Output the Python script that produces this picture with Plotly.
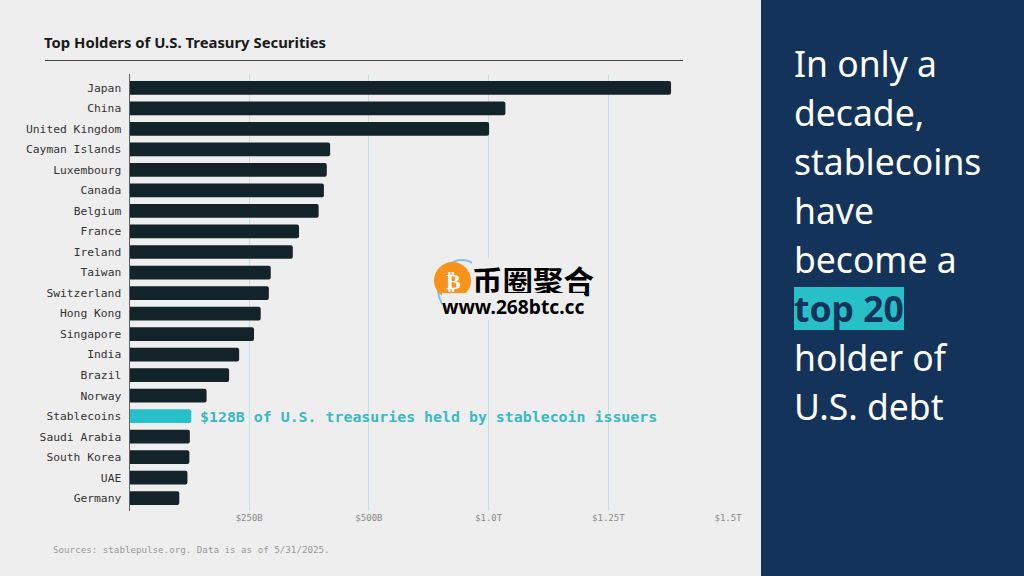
import plotly.graph_objects as go

countries = ["Japan", "China", "United Kingdom", "Cayman Islands", "Luxembourg", "Canada", "Belgium",
             "France", "Ireland", "Taiwan", "Switzerland", "Hong Kong", "Singapore", "India", "Brazil",
             "Norway", "Stablecoins", "Saudi Arabia", "South Korea", "UAE", "Germany"]
holdings = [1131, 785, 751, 419, 412, 406, 395, 354, 341, 295, 291, 274, 260, 229, 208, 161, 129, 126, 125, 121, 104]
tick_values = [250, 500, 750, 1000, 1250]
tick_labels = ["$250B", "$500B", "$1.0T", "$1.25T", "$1.5T"]
panel_lines = ["In only a", "decade,", "stablecoins", "have", "become a", "top 20", "holder of", "U.S. debt"]

W, H = 1024, 576
DARK = "#12232a"
TEAL = "#28c0c8"
NAVY = "#14335a"
SANS = "Noto Sans"
MONO = "DejaVu Sans Mono"


def px(x):
    return x / W


def py(y):
    return 1 - y / H


fig = go.Figure(go.Bar(
    x=holdings, y=countries, orientation="h", width=0.67,
    marker=dict(color=[TEAL if c == "Stablecoins" else DARK for c in countries], cornerradius=2, line_width=0),
    hoverinfo="skip",
))

shapes = [
    dict(type="rect", xref="paper", yref="paper", x0=px(761), x1=1, y0=0, y1=1, fillcolor=NAVY, line_width=0, layer="below"),
    dict(type="rect", xref="paper", yref="paper", x0=px(794), x1=px(904), y0=py(330), y1=py(287), fillcolor=TEAL, line_width=0, layer="below"),
    dict(type="rect", xref="paper", yref="paper", x0=px(45), x1=px(683), y0=py(61), y1=py(60), fillcolor="#4a4a4a", line_width=0),
    # watermark badge
    dict(type="circle", xref="paper", yref="paper", x0=px(438), x1=px(486), y0=py(316), y1=py(260),
         line=dict(color="#7fc4e8", width=2), fillcolor="rgba(0,0,0,0)", layer="above"),
    dict(type="circle", xref="paper", yref="paper", x0=px(434), x1=px(471), y0=py(299), y1=py(262),
         fillcolor="#f7931a", line_width=0, layer="above"),
]

ann = []


def text(x, y, s, size, color, family=SANS, anchor="left", bold=False, bg=None):
    ann.append(dict(xref="paper", yref="paper", x=px(x), y=py(y), text=f"<b>{s}</b>" if bold else s, showarrow=False,
                    xanchor=anchor, yanchor="middle", font=dict(size=size, color=color, family=family),
                    borderpad=0, borderwidth=0, bgcolor=bg))


text(44, 42.5, "Top Holders of U.S. Treasury Securities", 14.85, "#1a1a1a", bold=True)
text(53, 549, "Sources: stablepulse.org. Data is as of 5/31/2025.", 9.2, "#999999", MONO)

ann.append(dict(x=128, y="Stablecoins", xref="x", yref="y", xanchor="left", yanchor="middle", xshift=7, yshift=-1,
                showarrow=False, text="<b>$128B of U.S. treasuries held by stablecoin issuers</b>",
                font=dict(size=14.9, color="#3ab9c4", family=MONO)))

line_y = [63, 112, 161, 210, 259, 308, 357, 406]
for s, y in zip(panel_lines, line_y):
    hi = s == "top 20"
    text(794, y, s, 35.5, NAVY if hi else "#ffffff", bold=hi)

# watermark
text(472, 280, "币圈聚合", 30.5, "#000000", "Noto Sans CJK SC", bold=True, bg="#eeeeee")
text(441.5, 306, "www.268btc.cc", 19.2, "#000000", "Noto Sans", bold=True, bg="#eeeeee")
text(453, 281, "₿", 22, "#ffffff", "DejaVu Sans", anchor="center", bold=True)

fig.update_layout(
    width=W, height=H, margin=dict(l=0, r=0, t=0, b=0), autosize=False,
    paper_bgcolor="#eeeeee", plot_bgcolor="rgba(0,0,0,0)", showlegend=False,
    shapes=shapes, annotations=ann,
    xaxis=dict(domain=[px(129.5), px(729)], range=[0, 1252], tickmode="array", tickvals=tick_values, automargin=False,
               ticktext=tick_labels, showgrid=True, gridcolor="#bfe3e7", gridwidth=1, zeroline=False,
               showline=False, ticks="", tickfont=dict(size=9, color="#8a8a8a", family=MONO)),
    yaxis=dict(domain=[py(511), py(74)], range=[20.63, -0.68], type="category", categoryorder="array", automargin=False,
               categoryarray=countries, showgrid=False, zeroline=False, showline=True, linecolor="#5a6468",
               linewidth=1, ticks="", ticklabelstandoff=5, tickfont=dict(size=11.3, color="#333333", family=MONO)),
)

fig.write_html("out.html", config={"displayModeBar": False},
               post_script="document.body.style.margin='0';")
